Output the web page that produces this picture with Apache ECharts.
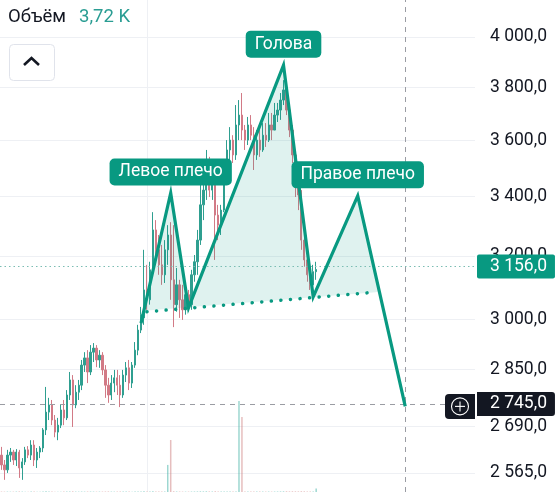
<!DOCTYPE html>
<html><head><meta charset="utf-8">
<script src="https://cdn.jsdelivr.net/npm/echarts@6/dist/echarts.min.js"></script>
<style>html,body{margin:0;padding:0;background:#fff}#c{width:559px;height:492px}</style>
</head><body><div id="c"></div>
<script>
// ---- data ----
const candleOpen = [2612,2586,2573,2612,2620,2599,2620,2578,2594,2626,
2612,2639,2599,2620,2631,2680,2729,2749,2707,2674,
2693,2735,2713,2777,2820,2749,2785,2805,2863,2884,
2843,2901,2913,2878,2892,2849,2805,2777,2811,2826,
2805,2777,2834,2855,2811,2863,2907,2967,3004,3091,
3060,3155,3286,3220,3171,3139,3220,3269,3123,3045,
3107,3060,3029,3076,3045,3139,3181,3252,3371,3422,
3511,3422,3457,3336,3302,3353,3475,3565,3601,3547,
3657,3694,3638,3601,3657,3619,3547,3601,3565,3619,
3601,3657,3638,3694,3713,3751,3790,3713,3638,3547,
3440,3405,3252,3187,3139,3107,3149];
const candleClose = [2586,2573,2612,2620,2599,2620,2578,2594,2626,2612,
2639,2599,2620,2631,2680,2729,2749,2707,2674,2693,
2735,2713,2777,2820,2749,2785,2805,2863,2884,2843,
2901,2913,2878,2892,2849,2805,2777,2811,2826,2805,
2777,2834,2855,2811,2863,2907,2967,3014,3091,3060,
3155,3286,3220,3171,3139,3220,3269,3123,3045,3107,
3060,3029,3076,3045,3139,3181,3252,3371,3422,3511,
3422,3457,3336,3302,3353,3475,3565,3601,3547,3657,
3694,3638,3601,3657,3619,3547,3601,3565,3619,3601,
3657,3638,3694,3713,3751,3790,3713,3638,3547,3440,
3405,3252,3187,3139,3107,3149,3156];
const candleLow = [2573,2547,2565,2594,2586,2583,2552,2547,2586,2604,
2599,2583,2578,2604,2620,2666,2707,2693,2660,2652,
2685,2693,2707,2763,2688,2740,2763,2791,2843,2811,
2834,2872,2857,2855,2834,2769,2755,2763,2785,2777,
2743,2769,2814,2791,2797,2855,2892,2958,2983,3029,
3045,3139,3171,3139,3107,3113,3171,3060,2976,3023,
3004,2998,3014,3023,3029,3117,3139,3236,3319,3388,
3398,3388,3187,3252,3269,3346,3457,3504,3518,3529,
3601,3601,3565,3583,3601,3493,3529,3540,3558,3576,
3594,3601,3649,3668,3676,3732,3694,3612,3518,3398,
3353,3220,3165,3117,3091,3091,3123];
const candleHigh = [2634,2599,2626,2631,2626,2628,2626,2604,2634,2636,
2652,2652,2631,2636,2685,2800,2769,2763,2721,2713,
2749,2763,2791,2843,2834,2805,2820,2878,2901,2907,
2922,2928,2922,2907,2901,2863,2826,2834,2849,2849,
2834,2849,2872,2878,2872,2931,2983,3038,3220,3171,
3181,3346,3319,3269,3236,3252,3302,3312,3302,3161,
3123,3107,3097,3091,3155,3203,3286,3457,3464,3565,
3540,3511,3468,3371,3371,3529,3601,3649,3619,3732,
3751,3778,3657,3687,3694,3649,3638,3638,3664,3664,
3702,3702,3740,3740,3778,3828,3828,3732,3657,3565,
3493,3422,3286,3210,3161,3171,3181];
const volume = [500,400,450,350,400,500,600,450,400,350,
450,500,400,350,500,700,550,450,400,350,
400,450,500,600,700,450,400,500,450,550,
500,450,400,450,500,550,600,450,400,500,
550,450,500,450,400,500,600,650,800,550,
500,750,650,550,500,450,29000,55700,800,550,
500,450,400,450,500,550,600,700,650,750,
600,550,800,550,500,600,650,550,500,600,
97500,80300,550,500,450,500,550,450,500,450,
500,450,500,550,600,700,800,650,750,700,
650,800,700,550,500,450,3720];
const numCategories = 160;
const yTicks = [2565, 2690, 2850, 3000, 3200, 3400, 3600, 3800, 4000];
const yMin = 2515.6, yMax = 4153.8;
const patternIdx = [47, 57, 63, 95, 105, 120, 136];
const patternVal = [2988, 3412, 3035, 3887, 3069, 3402, 2745];
const patternLabels = ['', 'Левое плечо', '', 'Голова', '', 'Правое плечо', ''];
const neckIdx = [49, 126];
const neckVal = [3023, 3084];
const fillIdx = [48, 57, 63, 95, 105, 120, 127, 126];
const fillVal = [3026, 3412, 3035, 3887, 3069, 3402, 3087, 3084];
const lastPrice = 3156;
const crossPrice = 2745;
const crossIdx = 136;
const timeGridIdx = 49;
const volLabel = 'Объём';

// ---- helpers ----
const L = Math.log;
function fmt(v){ const s = String(Math.round(v)); return s.replace(/\B(?=(\d{3})+(?!\d))/g,' ') + ',0'; }
const categories = Array.from({length: numCategories}, (_, i) => String(i));
const FONT = 'Roboto';
const GRID_RIGHT = 84;
const green = '#089981';

const candleData = candleOpen.map((o, i) => [L(o), L(candleClose[i]), L(candleLow[i]), L(candleHigh[i])]);
const volData = volume.map((v, i) => ({
  value: v,
  itemStyle: { color: candleClose[i] >= candleOpen[i] ? 'rgba(38,166,154,0.45)' : 'rgba(200,110,110,0.45)' }
}));
const patternData = patternIdx.map((x, i) => [x, L(patternVal[i])]);
const neckData = neckIdx.map((x, i) => [x, L(neckVal[i])]);
const labelData = patternIdx.map((x, i) => patternLabels[i] ? {
  value: [x, L(patternVal[i])],
  label: { show: true, formatter: patternLabels[i] }
} : null).filter(Boolean);

const chart = echarts.init(document.getElementById('c'));
chart.setOption({
  animation: false,
  backgroundColor: '#ffffff',
  grid: [
    { left: 0, right: GRID_RIGHT, top: 0, bottom: 0 },
    { left: 0, right: GRID_RIGHT, top: 380, bottom: 0 }
  ],
  xAxis: [
    { type: 'category', data: categories, gridIndex: 0, boundaryGap: true,
      axisLine: { show: false }, axisTick: { show: false }, axisLabel: { show: false }, splitLine: { show: false } },
    { type: 'category', data: categories, gridIndex: 1, boundaryGap: true,
      axisLine: { show: false }, axisTick: { show: false }, axisLabel: { show: false }, splitLine: { show: false } }
  ],
  yAxis: [
    { type: 'value', gridIndex: 0, position: 'right', min: L(yMin), max: L(yMax), scale: true,
      axisLine: { show: false },
      axisTick: { show: false, customValues: yTicks.map(L) },
      axisLabel: { customValues: yTicks.map(L), formatter: v => fmt(Math.exp(v)),
        color: '#131722', fontSize: 17.5, fontFamily: FONT, margin: 15 },
      splitLine: { show: true, lineStyle: { color: '#eef0f4', width: 1 } } },
    { type: 'value', gridIndex: 1, min: 0, max: 120000, show: false, splitLine: { show: false } }
  ],
  series: [
    { type: 'bar', xAxisIndex: 1, yAxisIndex: 1, data: volData, barWidth: 1.5, z: 1, silent: true },
    { type: 'candlestick', xAxisIndex: 0, yAxisIndex: 0, data: candleData, barWidth: 1.8, z: 2,
      itemStyle: { color: '#2f9f90', color0: '#d27a86', borderColor: '#2f9f90', borderColor0: '#d27a86', borderWidth: 1 },
      markLine: { silent: true, symbol: 'none', z: 1,
        data: [
          { xAxis: timeGridIdx, lineStyle: { color: '#eef0f4', width: 1, type: 'solid' }, label: { show: false } }
        ] } },
    { type: 'custom', xAxisIndex: 0, yAxisIndex: 0, z: 3, silent: true,
      data: [[0, L(3000)]],
      renderItem: (params, api) => {
        const pts = fillIdx.map((x, i) => api.coord([x, L(fillVal[i])]));
        return { type: 'polygon', shape: { points: pts }, style: { fill: 'rgba(8,153,129,0.13)' } };
      } },
    { type: 'line', xAxisIndex: 0, yAxisIndex: 0, z: 4, data: neckData, symbol: 'none', silent: true,
      lineStyle: { color: green, width: 3.5, type: [0.1, 9.5], cap: 'round' } },
    { type: 'line', xAxisIndex: 0, yAxisIndex: 0, z: 5, data: patternData, symbol: 'none', silent: true,
      lineStyle: { color: green, width: 3.2, join: 'miter' },
      markLine: { silent: true, symbol: 'none',
        data: [
          { yAxis: L(lastPrice), lineStyle: { color: '#7bbdb3', width: 1.2, type: [1.5, 3] },
            label: { show: true, position: 'end', distance: 2, formatter: fmt(lastPrice),
              backgroundColor: green, color: '#fff', fontSize: 17.5, fontFamily: FONT,
              lineHeight: 18, padding: [3, 8, 3, 13], borderRadius: 2 } },
          { yAxis: L(crossPrice), lineStyle: { color: '#9a9ca3', width: 1, type: [5, 5] },
            label: { show: true, position: 'end', distance: 2, formatter: fmt(crossPrice),
              backgroundColor: '#131722', color: '#fff', fontSize: 17.5, fontFamily: FONT,
              lineHeight: 18, padding: [3, 8, 3, 13], borderRadius: [0, 3, 3, 0] } },
          { xAxis: crossIdx, lineStyle: { color: '#9a9ca3', width: 1, type: [5, 5] }, label: { show: false } }
        ] } },
    { type: 'scatter', xAxisIndex: 0, yAxisIndex: 0, z: 6, data: labelData, symbol: 'circle', symbolSize: 1,
      silent: true, itemStyle: { color: 'rgba(0,0,0,0)', opacity: 1 },
      label: { show: true, position: 'top', distance: 7, color: '#fff', fontSize: 17.5, fontFamily: FONT,
        backgroundColor: green, borderRadius: 5, padding: [4, 9, 4, 9], lineHeight: 19, opacity: 1 } }
  ]
});

// overlay UI elements positioned via the chart's own scale
const cy = chart.convertToPixel({ yAxisIndex: 0 }, L(crossPrice));
const gridRightPx = 559 - GRID_RIGHT;
const lastVol = volume[volume.length - 1];
chart.setOption({
  graphic: [
    { type: 'text', left: 8, top: 8, z: 100,
      style: { text: volLabel, font: '18.5px ' + FONT, fill: '#131722' } },
    { type: 'text', left: 79, top: 8, z: 100,
      style: { text: (lastVol / 1000).toFixed(2).replace('.', ',') + ' K', font: '18.5px ' + FONT, fill: '#2a9d93' } },
    { type: 'rect', shape: { x: 9.5, y: 44.5, width: 45, height: 36, r: 4 }, z: 100,
      style: { fill: '#fff', stroke: '#e0e3eb', lineWidth: 1 } },
    { type: 'polyline', shape: { points: [[24, 65], [31.5, 58], [39, 65]] }, z: 101,
      style: { stroke: '#131722', lineWidth: 2.6, fill: null } },
    { type: 'rect', shape: { x: gridRightPx - 30, y: cy - 12.5, width: 30, height: 25, r: [4, 0, 0, 4] }, z: 100,
      style: { fill: '#131722' } },
    { type: 'circle', shape: { cx: gridRightPx - 15, cy: cy, r: 8.5 }, z: 101,
      style: { stroke: '#fff', lineWidth: 1.1, fill: null } },
    { type: 'line', shape: { x1: gridRightPx - 20, y1: cy, x2: gridRightPx - 10, y2: cy }, z: 101,
      style: { stroke: '#fff', lineWidth: 1.1 } },
    { type: 'line', shape: { x1: gridRightPx - 15, y1: cy - 5, x2: gridRightPx - 15, y2: cy + 5 }, z: 101,
      style: { stroke: '#fff', lineWidth: 1.1 } }
  ]
});
</script>
</body></html>
